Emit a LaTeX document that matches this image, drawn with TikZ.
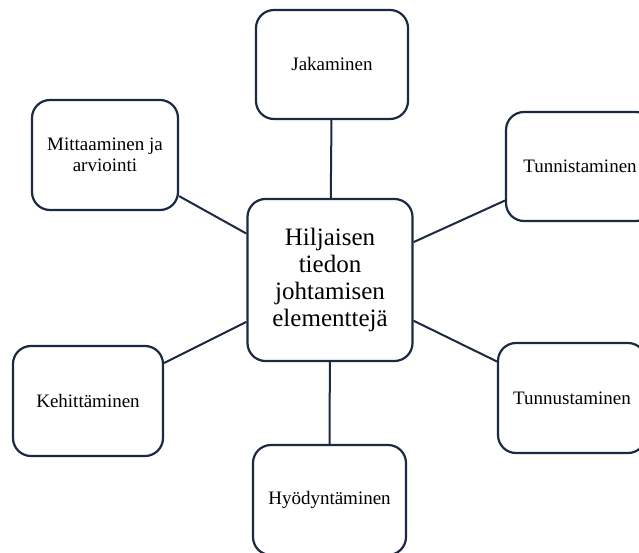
\documentclass[tikz,border=0pt]{standalone}
\usepackage{fontspec}
\setmainfont{Liberation Serif}
\definecolor{navy}{HTML}{1B2A41}
\begin{document}
\begin{tikzpicture}[x=1pt,y=-1pt,
  box/.style={draw=navy,line width=2.2pt,rounded corners=18pt,fill=white,
    font=\fontsize{19}{21}\selectfont,align=center,inner sep=0pt},
  hub/.style={box,font=\fontsize{25}{26.7}\selectfont},
  link/.style={draw=navy,line width=2pt}]
\useasboundingbox (0,0) rectangle (639,553);
\clip (0,0) rectangle (639,553);
\fill[white] (0,0) rectangle (639,553);
\node[hub,minimum width=165pt,minimum height=162pt] (c) at (330,280) {Hiljaisen\\tiedon\\johtamisen\\elementtejä};
\node[box,minimum width=152pt,minimum height=109pt] (jak) at (332,64.5) {Jakaminen};
\node[box,minimum width=146pt,minimum height=110pt] (mit) at (105,155) {Mittaaminen ja\\arviointi};
\node[box,minimum width=148pt,minimum height=109pt] (tun) at (580,166.5) {Tunnistaminen};
\node[box,minimum width=150pt,minimum height=110pt] (keh) at (88,401) {Kehittäminen};
\node[box,minimum width=148pt,minimum height=110pt] (tus) at (572,398) {Tunnustaminen};
\node[box,minimum width=153pt,minimum height=110pt] (hyo) at (329.5,500) {Hyödyntäminen};
\begin{scope}[on background layer/.try]
\end{scope}
\draw[link] (c) -- (jak);
\draw[link] (c) -- (mit);
\draw[link] (c) -- (tun);
\draw[link] (c) -- (keh);
\draw[link] (c) -- (tus);
\draw[link] (c) -- (hyo);
\end{tikzpicture}
\end{document}
